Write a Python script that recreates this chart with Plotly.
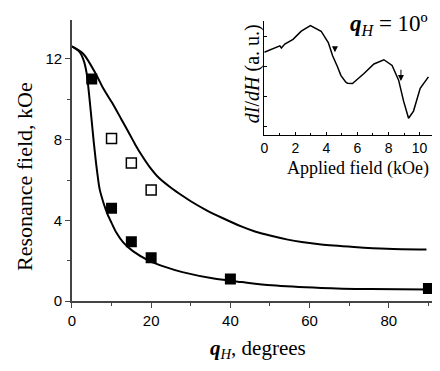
import plotly.graph_objects as go

# Main panel data
theta_filled = [5, 10, 15, 20, 40, 90]
field_filled = [11.0, 4.6, 2.95, 2.15, 1.1, 0.63]
theta_open = [10, 15, 20]
field_open = [8.05, 6.84, 5.5]

# Calculated curves
theta_upper = [0, 2.9, 6.2, 8.0, 10.4, 12.5, 14.5, 16.0, 17.7, 19.5, 22, 25, 27.9, 30, 34, 38, 42.9, 46.2, 50, 54.5, 58, 62.9, 71.2, 79.5, 89.5]
field_upper = [12.61, 12.24, 11.19, 10.5, 9.74, 9.0, 8.29, 7.75, 7.2, 6.68, 6.1, 5.62, 5.22, 4.95, 4.5, 4.12, 3.69, 3.45, 3.25, 3.05, 2.93, 2.81, 2.69, 2.6, 2.56]
theta_lower = [0, 2.0, 3.0, 3.7, 4.5, 5.0, 5.5, 6.0, 6.5, 7.0, 8.0, 9.0, 10.0, 11.2, 13.0, 15.4, 19.5, 23.5, 27.9, 36.2, 42.9, 50.4, 62.9, 75.4, 89.7]
field_lower = [12.61, 12.32, 11.9, 11.3, 9.9, 8.9, 7.9, 7.0, 6.2, 5.55, 4.85, 4.3, 3.88, 3.4, 2.9, 2.48, 2.0, 1.7, 1.44, 1.11, 0.95, 0.79, 0.66, 0.6, 0.58]

# Inset spectrum data
h_inset = [0, 0.68, 1.0, 1.1, 1.32, 1.85, 2.38, 2.97, 3.66, 4.12, 4.4, 4.72, 4.93, 5.25, 5.36, 5.68,
           6.42, 7.06, 7.7, 8.23, 8.65, 8.97, 9.29, 9.61, 10.04, 10.57]
d_inset = [3.48, 3.61, 3.69, 3.62, 3.75, 3.91, 4.18, 4.37, 4.18, 3.80, 3.36, 2.99, 2.71, 2.48, 2.45, 2.44,
           2.77, 3.09, 3.23, 3.04, 2.55, 1.85, 1.28, 1.52, 2.28, 2.66]
arrow_h = [4.55, 8.8]
arrow_top = [3.91, 3.23]
arrow_bot = [3.48, 2.52]

# The page body adds an 8px margin on every side; size the figure to fit inside it.
OFF = 8
W, H = 440 - 2 * OFF, 371 - 2 * OFF


def fx(px):
    return (px - OFF) / W


def fy(py):
    return 1 - (py - OFF) / H


fig = go.Figure()
fig.add_trace(go.Scatter(x=theta_upper, y=field_upper, mode="lines",
                         line=dict(color="black", width=2, shape="spline", smoothing=0.8),
                         xaxis="x", yaxis="y", showlegend=False))
fig.add_trace(go.Scatter(x=theta_lower, y=field_lower, mode="lines",
                         line=dict(color="black", width=2, shape="spline", smoothing=0.8),
                         xaxis="x", yaxis="y", showlegend=False))
fig.add_trace(go.Scatter(x=theta_filled, y=field_filled, mode="markers",
                         marker=dict(symbol="square", size=11, color="black"), xaxis="x", yaxis="y", showlegend=False))
fig.add_trace(go.Scatter(x=theta_open, y=field_open, mode="markers",
                         marker=dict(symbol="square-open", size=10, color="black", line=dict(width=1.5)),
                         xaxis="x", yaxis="y", showlegend=False))
fig.add_trace(go.Scatter(x=h_inset, y=d_inset, mode="lines", line=dict(color="black", width=1.5),
                         xaxis="x2", yaxis="y2", showlegend=False))

for h, t, b in zip(arrow_h, arrow_top, arrow_bot):
    fig.add_annotation(x=h, y=b, ax=h, ay=t, xref="x2", yref="y2", axref="x2", ayref="y2",
                       showarrow=True, arrowhead=2, arrowsize=1.2, arrowwidth=1, arrowcolor="black", text=" ")

tickfont = dict(family="Liberation Sans, Arial", size=15, color="black")
fig.update_layout(
    width=W, height=H,
    margin=dict(l=0, r=0, t=0, b=0),
    paper_bgcolor="white", plot_bgcolor="white",
    xaxis=dict(domain=[fx(68.5), fx(432)], range=[0, 90.9], showgrid=False, zeroline=False,
               showline=True, linecolor="#444", linewidth=1.5, ticks="outside", ticklen=5, tickcolor="#444",
               tickvals=[0, 20, 40, 60, 80], tickfont=tickfont,
               minor=dict(dtick=10, tick0=0, ticklen=3, ticks="outside", tickcolor="#444"),
               anchor="y"),
    yaxis=dict(domain=[fy(308), fy(20.7)], range=[0, 13.9], showgrid=False, zeroline=False,
               showline=True, linecolor="#444", linewidth=1.5, ticks="outside", ticklen=5, tickcolor="#444",
               tickvals=[0, 4, 8, 12], tickfont=tickfont,
               minor=dict(dtick=2, tick0=0, ticklen=3, ticks="outside", tickcolor="#444"),
               anchor="x"),
    xaxis2=dict(domain=[fx(262.7), fx(432)], range=[0, 10.8], showgrid=False, zeroline=False,
                showline=True, linecolor="black", linewidth=1, ticks="inside", ticklen=3, tickcolor="black",
                tickvals=[0, 2, 4, 6, 8, 10], tickfont=dict(family="Liberation Sans, Arial", size=14, color="black"),
                minor=dict(dtick=1, tick0=0, ticklen=2, ticks="inside", tickcolor="black"),
                anchor="y2"),
    yaxis2=dict(domain=[fy(137.7), fy(21)], range=[0.73, 4.53], showgrid=False, zeroline=False,
                showline=True, linecolor="black", linewidth=1, ticks="inside", ticklen=3, tickcolor="black",
                tickvals=[1, 2, 3, 4], showticklabels=False, anchor="x2"),
)

serif = "Liberation Serif, Times New Roman"
fig.add_annotation(text="Resonance field, kOe", x=fx(20), y=fy(180), xref="paper", yref="paper",
                   xanchor="center", yanchor="middle", textangle=-90, showarrow=False,
                   font=dict(family=serif, size=22, color="black"))
fig.add_annotation(text="<b><i>q</i></b><sub><i>H</i></sub>, degrees", x=fx(256), y=fy(357),
                   xref="paper", yref="paper", xanchor="center", yanchor="middle", showarrow=False,
                   font=dict(family=serif, size=21, color="black"))
fig.add_annotation(text="Applied field (kOe)", x=fx(357), y=fy(172), xref="paper", yref="paper",
                   xanchor="center", yanchor="middle", showarrow=False,
                   font=dict(family=serif, size=18, color="black"))
fig.add_annotation(text="<i>dI</i>/<i>dH</i> (a. u.)", x=fx(251), y=fy(75), xref="paper", yref="paper",
                   xanchor="center", yanchor="middle", textangle=-90, showarrow=False,
                   font=dict(family=serif, size=20, color="black"))
fig.add_annotation(text="<b><i>q</i></b><sub><i>H</i></sub> = 10º", x=fx(430), y=fy(25),
                   xref="paper", yref="paper", xanchor="right", yanchor="middle", showarrow=False,
                   font=dict(family=serif, size=23, color="black"))

fig.write_html("out.html")
